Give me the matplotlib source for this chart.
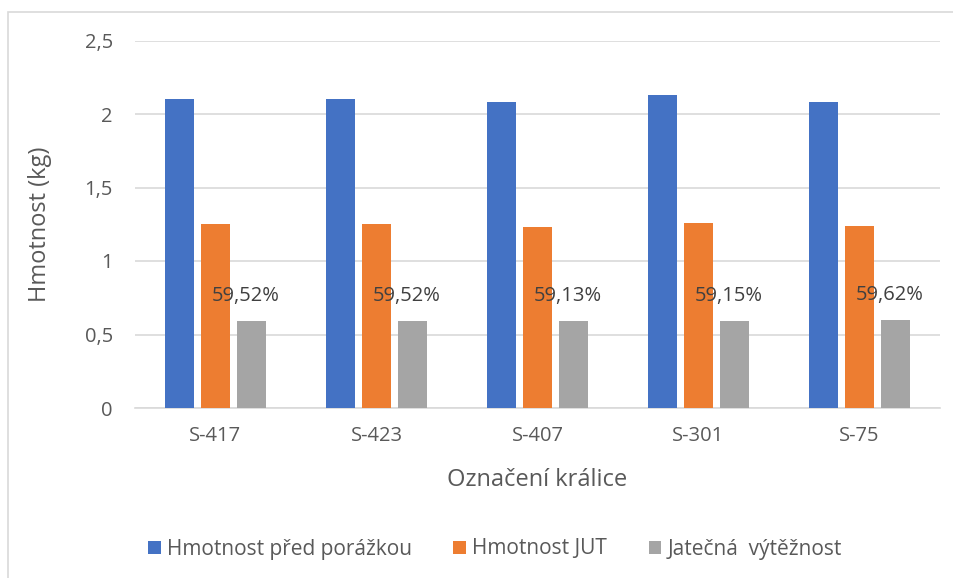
import matplotlib
matplotlib.use("Agg")
import matplotlib.pyplot as plt
from matplotlib.patches import Rectangle
import numpy as np

plt.rcParams['font.family'] = ['Open Sans', 'DejaVu Sans']

categories = ["S-417", "S-423", "S-407", "S-301", "S-75"]
hmotnost_pred = [2.10, 2.10, 2.08, 2.13, 2.08]
hmotnost_jut = [1.25, 1.25, 1.23, 1.26, 1.24]
vytéznost = [0.5952, 0.5952, 0.5913, 0.5915, 0.5962]
labels_vyt = ["59,52%", "59,52%", "59,13%", "59,15%", "59,62%"]
series_names = ["Hmotnost před porážkou", "Hmotnost JUT", "Jatečná  výtěžnost"]
yticks = [0, 0.5, 1, 1.5, 2, 2.5]
ytick_labels = ["0", "0,5", "1", "1,5", "2", "2,5"]

colors = ["#4472C4", "#ED7D31", "#A5A5A5"]
text_col = "#595959"

W, H = 954, 578
fig = plt.figure(figsize=(W / 100, H / 100), dpi=100)
# chart border
fig.patches.append(Rectangle((8 / W, -0.1), 1.2, (578 - 12) / H + 0.1, transform=fig.transFigure,
                             fill=False, edgecolor="#D9D9D9", linewidth=1.2))

ax = fig.add_axes([135 / W, (578 - 408) / H, 805 / W, (408 - 40.5) / H])
x = np.arange(len(categories))
w = 0.174
pitch = 0.2236
series = [hmotnost_pred, hmotnost_jut, vytéznost]
for i, (vals, c, name) in enumerate(zip(series, colors, series_names)):
    ax.bar(x + (i - 1) * pitch, vals, width=w, color=c, label=name, zorder=3)

for xi, v, lab in zip(x, vytéznost, labels_vyt):
    ax.annotate(lab, (xi + pitch, v), xytext=(-4, 18), textcoords="offset points",
                ha="center", va="center", fontsize=14.5, color="#404040", zorder=4)

ax.set_xlim(-0.5, len(categories) - 0.5)
ax.set_ylim(0, 2.5)
ax.set_yticks(yticks)
ax.set_yticklabels(ytick_labels)
ax.set_xticks(x)
ax.set_xticklabels(categories)
ax.grid(axis="y", color="#D9D9D9", linewidth=1.2, zorder=0)
for s in ["top", "right", "left"]:
    ax.spines[s].set_visible(False)
ax.spines["bottom"].set_color("#D9D9D9")
ax.spines["bottom"].set_linewidth(1.2)
ax.tick_params(axis="both", length=0, labelsize=14.5, labelcolor=text_col)
ax.tick_params(axis="y", pad=16)
ax.tick_params(axis="x", pad=13)
ax.set_xlabel("Označení králice", fontsize=17, color=text_col, labelpad=16)
ax.set_ylabel("Hmotnost (kg)", fontsize=17, color=text_col, labelpad=23)

leg = fig.legend(loc="center", bbox_to_anchor=(495 / W, 1 - 549 / H), ncol=3, frameon=False,
                 fontsize=15, handlelength=0.6, handleheight=0.6, handletextpad=0.3,
                 columnspacing=2.0)
for t in leg.get_texts():
    t.set_color(text_col)

fig.savefig("out.png", dpi=100)
